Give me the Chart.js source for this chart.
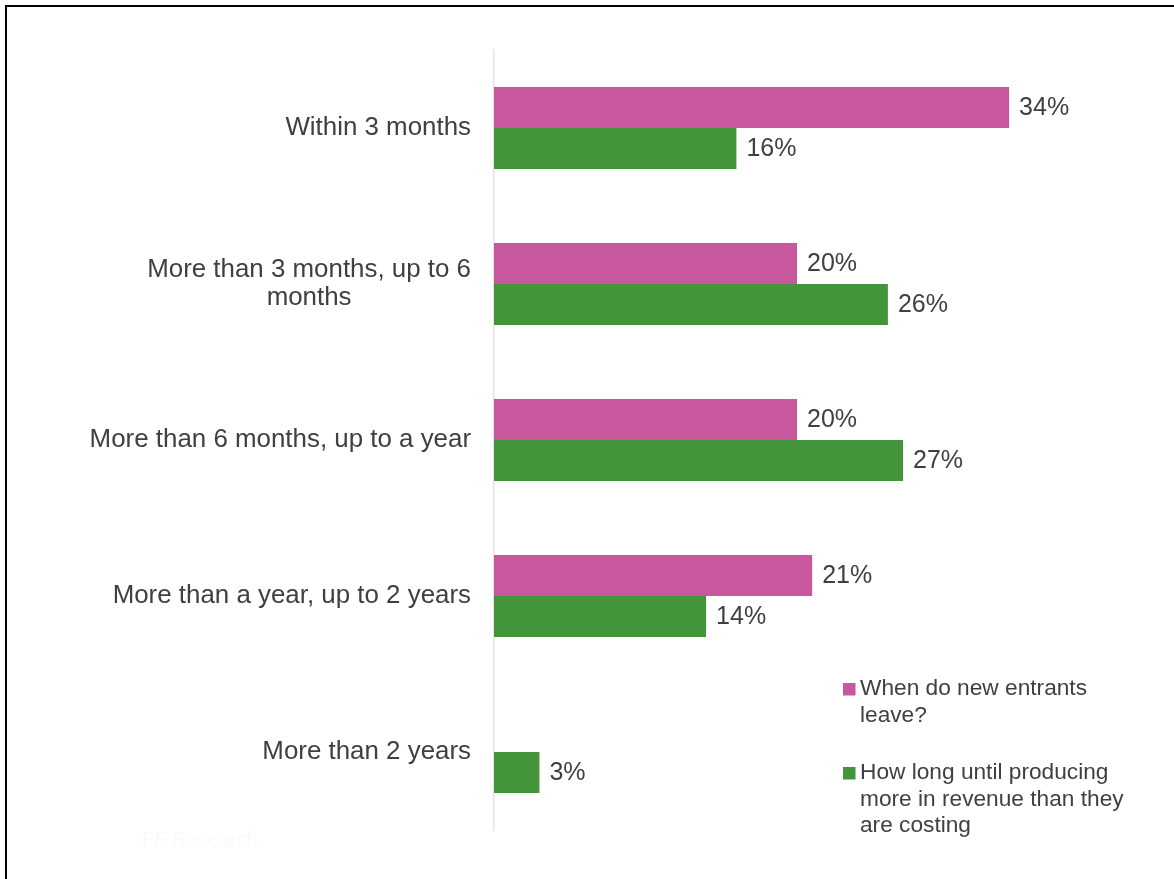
<!DOCTYPE html>
<html>
<head>
<meta charset="utf-8">
<title>New entrants</title>
<script src="https://cdn.jsdelivr.net/npm/chart.js@4/dist/chart.umd.min.js"></script>
<style>
  html, body { margin: 0; padding: 0; background: #fff; }
  #wrap { position: relative; width: 1174px; height: 879px; overflow: hidden; }
  #frame {
    position: absolute; left: 5px; top: 5px; width: 1300px; height: 1000px;
    border-top: 2px solid #000; border-left: 2px solid #000;
    pointer-events: none;
  }
  #mark {
    position: absolute; left: 142px; top: 828px;
    font: 20px "Liberation Sans", Arial, sans-serif; color: #fafafa;
  }
  canvas { position: absolute; left: 0; top: 0; }
</style>
</head>
<body>
<div id="wrap">
  <canvas id="chart" width="1174" height="879"></canvas>
  <div id="mark">FF Research</div>
  <div id="frame"></div>
</div>
<script>
// ---------- DATA ----------
const categories = [
  ["Within 3 months"],
  ["More than 3 months, up to 6", "months"],
  ["More than 6 months, up to a year"],
  ["More than a year, up to 2 years"],
  ["More than 2 years"]
];
const leaveValues   = [34, 20, 20, 21, null];
const revenueValues = [16, 26, 27, 14, 3];
const leaveLegend   = ["When do new entrants", "leave?"];
const revenueLegend = ["How long until producing", "more in revenue than they", "are costing"];

const PINK  = "#c8589e";
const GREEN = "#43943b";
const TEXT  = "#404040";
const FONT  = '25px "Liberation Sans", Arial, sans-serif';
const CAT_FONT = '25.9px "Liberation Sans", Arial, sans-serif';

// ---------- CATEGORY LABELS (right-aligned block, centred lines) ----------
const categoryLabels = {
  id: "categoryLabels",
  afterDraw(chart) {
    const { ctx } = chart;
    const y = chart.scales.y;
    const right = chart.chartArea.left - 23;
    const lh = 28;
    ctx.save();
    ctx.font = CAT_FONT;
    ctx.fillStyle = TEXT;
    ctx.textAlign = "center";
    ctx.textBaseline = "middle";
    categories.forEach((lines, i) => {
      const cy = y.getPixelForValue(i);
      const widest = Math.max(...lines.map(l => ctx.measureText(l).width));
      const cx = right - widest / 2;
      const top = cy - (lines.length - 1) * lh / 2;
      lines.forEach((l, k) => ctx.fillText(l, cx, top + k * lh));
    });
    ctx.restore();
  }
};

// ---------- VALUE LABELS ----------
const valueLabels = {
  id: "valueLabels",
  afterDatasetsDraw(chart) {
    const { ctx } = chart;
    ctx.save();
    ctx.font = FONT;
    ctx.fillStyle = TEXT;
    ctx.textAlign = "left";
    ctx.textBaseline = "middle";
    chart.data.datasets.forEach((ds, di) => {
      chart.getDatasetMeta(di).data.forEach((bar, i) => {
        const v = ds.data[i];
        if (v == null) return;
        ctx.fillText(v + "%", bar.x + 10, bar.y + 1);
      });
    });
    ctx.restore();
  }
};

// ---------- LEGEND ----------
const sideLegend = {
  id: "sideLegend",
  afterDraw(chart) {
    const { ctx } = chart;
    const items = [
      { color: PINK,  lines: leaveLegend,   top: 689 },
      { color: GREEN, lines: revenueLegend, top: 773 }
    ];
    ctx.save();
    ctx.font = '22.7px "Liberation Sans", Arial, sans-serif';
    ctx.textAlign = "left";
    ctx.textBaseline = "middle";
    items.forEach(it => {
      ctx.fillStyle = it.color;
      ctx.fillRect(843, it.top - 6, 12.5, 12.5);
      ctx.fillStyle = TEXT;
      it.lines.forEach((l, k) => ctx.fillText(l, 860, it.top + k * 26.5));
    });
    ctx.restore();
  }
};

new Chart(document.getElementById("chart").getContext("2d"), {
  type: "bar",
  data: {
    labels: categories.map(c => c.join(" ")),
    datasets: [
      { label: leaveLegend.join(" "),   data: leaveValues,   backgroundColor: PINK },
      { label: revenueLegend.join(" "), data: revenueValues, backgroundColor: GREEN }
    ]
  },
  options: {
    indexAxis: "y",
    responsive: false,
    animation: false,
    layout: { padding: { left: 494, top: 50, right: 74, bottom: 49 } },
    datasets: { bar: { categoryPercentage: 0.526, barPercentage: 1 } },
    scales: {
      x: { display: false, min: 0, max: 40 },
      y: {
        ticks: { display: false },
        grid: { display: false, drawTicks: false },
        border: { display: true, color: "#e3e3e3", width: 1.5 }
      }
    },
    plugins: {
      legend: { display: false },
      tooltip: { enabled: false }
    }
  },
  plugins: [categoryLabels, valueLabels, sideLegend]
});
</script>
</body>
</html>
